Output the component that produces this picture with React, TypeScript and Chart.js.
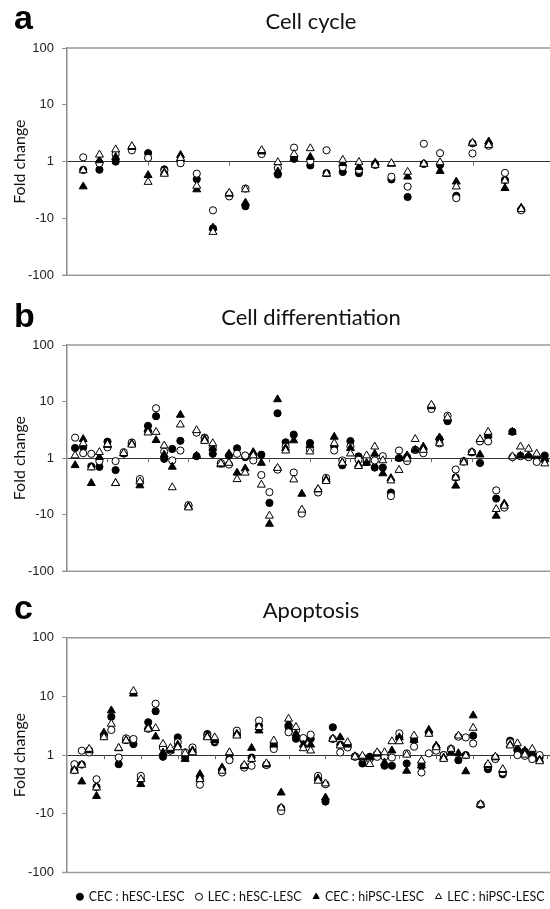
import React, { useEffect, useRef } from 'react';
import { Chart, registerables } from 'chart.js';

Chart.register(...registerables);

// ---------- shared labels ----------
const seriesLabels = ['CEC : hESC-LESC', 'LEC : hESC-LESC', 'CEC : hiPSC-LESC', 'LEC : hiPSC-LESC'];
const yTickValues = [-2, -1, 0, 1, 2];
const yTickLabels = ['-100', '-10', '1', '10', '100'];
const panelTitles = ['Cell cycle', 'Cell differentiation', 'Apoptosis'];
const panelLetters = ['a', 'b', 'c'];

// ---------- a: Cell cycle (fold change, 28 genes) ----------
const cycleCEC_hESC = [-1.4, -1.39, 1.0, 1.7, 1.41, -1.37, 1.05, -2.04, -15, -3.8, -6.1, 1.45, -1.69, 1.12, -1.17, -1.6, -1.52, -1.6, -1.1, -2.06, -4.2, -1.1, -1.15, -4.0, 2.1, 2.05, -2.1, -7.0];
const cycleLEC_hESC = [1.19, -1.07, 1.35, 1.58, 1.16, -1.45, -1.07, -1.63, -7.2, -4.1, -2.98, 1.36, -1.3, 1.76, 1.02, 1.58, -1.25, -1.4, -1.15, -1.85, -2.76, 2.06, 1.41, -4.4, 1.39, 1.9, -1.58, -7.2];
const cycleCEC_hiPSC = [-2.75, 1.05, 1.2, 1.8, -1.74, -1.55, 1.3, -3.1, -14.6, -3.7, -5.3, 1.5, -1.5, 1.15, 1.2, -1.65, -1.07, -1.25, -1.05, -1.1, -1.85, -1.1, -1.47, -2.26, 2.1, 2.25, -2.94, -6.5];
const cycleLEC_hiPSC = [-1.43, 1.32, 1.63, 1.86, -2.29, -1.65, 1.15, -2.68, -17.4, -3.58, -3.1, 1.58, -1.03, 1.35, 1.71, -1.63, 1.07, -1.02, -1.15, -1.07, -1.52, -1.1, -1.03, -2.76, 2.14, 1.95, -2.17, -6.9];

// ---------- b: Cell differentiation (fold change, 59 genes) ----------
const diffCEC_hESC = [1.51, 1.55, -1.4, -1.43, 1.95, -1.63, 1.2, 1.8, -2.6, 3.72, 5.5, -1.03, 1.45, 2.02, -7.0, 1.08, 2.3, 1.19, -1.25, 1.1, 1.49, 1.04, 1.1, 1.15, -6.2, 6.2, 1.9, 2.6, -9.0, 1.85, -3.8, -2.4, 1.6, -1.34, 2.0, 1.07, -1.17, -1.47, -1.47, -4.06, 1.0, 1.04, 1.4, 1.4, 8.0, 2.16, 4.5, -2.2, -1.15, 1.27, -1.22, 2.5, -5.2, -7.0, 2.93, 1.1, 1.05, 1.05, 1.11];
const diffLEC_hESC = [2.3, 1.22, 1.19, -1.13, 1.55, -1.13, 1.27, 1.89, -2.34, 3.0, 7.6, 1.3, -1.1, 1.36, -6.8, 2.82, 2.25, 1.55, -1.22, -1.3, 1.19, 1.11, -1.1, -1.99, -4.0, -1.6, 1.6, -1.8, -9.6, 1.4, -4.06, -2.24, 1.36, -1.1, 1.6, -1.07, -1.03, -1.1, 1.08, -4.7, 1.36, -1.13, 1.39, 1.22, 7.4, 1.82, 5.6, -1.59, -1.13, 1.27, 1.97, 1.97, -3.72, -7.5, 1.04, 1.08, 1.04, -1.17, -1.1];
const diffCEC_hiPSC = [-1.34, 2.16, -2.78, 1.04, 1.7, -2.78, 1.2, 1.8, -3.05, 3.2, 2.07, 1.15, -1.43, 5.8, -7.2, 1.1, 2.15, 1.5, -1.3, 1.19, -1.82, -1.53, 1.27, -1.22, -14.6, 10.9, 1.5, 2.05, -4.3, 1.7, -3.6, -2.4, 2.37, -1.2, 1.5, -1.3, -1.22, 1.19, -1.87, -2.27, 1.0, 1.11, 1.4, 1.59, 8.2, 2.31, 5.0, -3.09, -1.15, 1.25, 1.15, 2.5, -10.5, -6.4, 2.9, 1.1, 1.1, 1.1, -1.03];
const diffLEC_hiPSC = [1.11, 1.82, -1.47, 1.27, 1.75, -2.78, 1.22, 1.72, -2.6, 2.82, 2.89, 1.66, -3.3, 3.9, -7.5, 3.1, 2.0, 1.82, -1.25, -1.22, -2.37, -1.82, 1.11, -2.97, -10.5, -1.5, 1.35, -2.4, -8.2, 1.3, -3.56, -2.56, 1.82, -1.22, 1.2, -1.39, 1.11, 1.59, -1.1, -2.5, -1.63, -1.03, 2.16, 1.39, 8.7, 1.82, 5.2, -2.22, -1.2, 1.27, 2.16, 2.89, -8.0, -7.0, 1.07, 1.59, 1.45, 1.19, -1.25];

// ---------- c: Apoptosis (fold change, 64 genes) ----------
const apoCEC_hESC = [-1.8, -1.45, 1.2, -3.5, 2.2, 4.5, -1.43, 1.8, 1.54, -2.6, 3.63, 5.6, -1.07, 1.2, 2.0, -1.1, 1.2, -2.6, 2.29, 1.65, -1.8, -1.15, 2.3, -1.55, -1.1, 3.18, -1.45, 1.5, -8.0, 3.0, 1.9, 1.8, 1.9, -2.5, -6.2, 2.98, 1.5, 1.5, -1.05, -1.39, -1.07, 1.05, -1.52, -1.52, 2.0, -1.39, 1.8, -1.5, 2.4, 1.35, 1.0, 1.27, -1.22, 1.0, 2.14, -7.0, -1.74, -1.1, -2.12, 1.76, 1.2, 1.15, 1.0, -1.1];
const apoLEC_hESC = [-1.43, 1.19, 1.11, -2.58, 2.1, 2.68, -1.1, 1.93, 1.88, -2.26, 2.8, 7.5, 1.32, 1.19, 1.65, 1.11, 1.35, -3.2, 2.14, 1.76, -1.98, -1.22, 2.61, -1.63, -1.52, 3.88, -1.48, 1.27, -9.0, 2.45, 2.6, 1.95, 2.23, -2.26, -3.14, 1.88, 1.11, 1.35, -1.07, -1.1, -1.17, -1.07, -1.07, -1.1, 2.35, 1.07, 1.39, -1.98, 1.07, 1.19, 1.0, 1.27, 2.06, 2.0, 1.58, -6.9, -1.52, -1.17, -1.98, 1.65, 1.0, -1.03, -1.17, 1.0];
const apoCEC_hiPSC = [-1.8, -2.83, 1.2, -5.0, 2.4, 5.75, 1.3, 1.8, 11.1, -3.14, 3.0, 2.06, 1.1, 1.2, 1.5, -1.17, 1.2, -2.12, 2.1, 1.8, -1.63, 1.1, 2.3, -1.55, 1.32, 2.61, -1.45, 1.5, -4.37, 3.5, 2.3, 1.5, 1.5, -2.5, -5.3, 1.9, 2.0, 1.5, -1.05, -1.1, -1.1, 1.05, -1.34, 1.19, 2.0, -1.86, 1.8, -1.52, 2.68, 1.45, -1.1, 1.11, 1.07, -1.9, 4.72, -7.0, -1.5, -1.1, -1.8, 1.5, 1.3, 1.19, 1.11, -1.2];
const apoLEC_hiPSC = [-1.86, -1.47, 1.27, -3.58, 2.0, 3.4, 1.32, 1.76, 12.3, -2.58, 2.79, 2.87, 1.54, 1.32, 1.35, 1.07, 1.11, -2.58, 2.0, 2.0, -1.86, 1.11, 2.14, -1.48, -1.17, 2.98, -1.39, 1.76, -7.9, 4.14, 3.0, 1.3, 1.19, -2.75, -3.06, 1.88, 1.45, 1.65, -1.07, -1.03, -1.43, 1.11, 1.11, 1.71, 1.71, 1.01, 2.14, -1.25, 2.29, 1.35, -1.17, 1.27, 2.14, -1.03, 2.9, -6.9, -1.43, -1.07, -1.74, 1.45, 1.58, 1.01, 1.27, -1.28];

// x-axis extents (gene index units visible in the cropped figure)
const xMaxA = 33.6;
const xMaxB = 67.3;
const xMaxC = 73.8;

const foldToAxis = (fc: number) => (fc >= 1 ? Math.log10(fc) : fc <= -1 ? -Math.log10(-fc) : 0);

const markerStyles = [
  { pointStyle: 'circle', pointRadius: 3.6, backgroundColor: '#000', borderColor: '#000', order: 4 },
  { pointStyle: 'circle', pointRadius: 3.6, backgroundColor: '#fff', borderColor: '#000', order: 3 },
  { pointStyle: 'triangle', pointRadius: 4.6, backgroundColor: '#000', borderColor: '#000', order: 2 },
  { pointStyle: 'triangle', pointRadius: 4.6, backgroundColor: '#fff', borderColor: '#000', order: 1 },
];

const framePlugin = {
  id: 'frame',
  beforeDatasetsDraw(chart: any) {
    const { ctx, chartArea: a, scales } = chart;
    ctx.save();
    ctx.strokeStyle = '#9a9a9a';
    ctx.lineWidth = 1.5;
    ctx.beginPath();
    ctx.moveTo(a.left, a.top);
    ctx.lineTo(a.right, a.top);
    ctx.moveTo(a.left - 5, a.bottom);
    ctx.lineTo(a.right, a.bottom);
    ctx.stroke();
    const y0 = scales.y.getPixelForValue(0);
    ctx.strokeStyle = '#666';
    ctx.lineWidth = 1;
    ctx.beginPath();
    for (let v = 5; v < scales.x.max; v += 5) {
      const x = Math.round(scales.x.getPixelForValue(v)) + 0.5;
      ctx.moveTo(x, y0);
      ctx.lineTo(x, y0 + 4);
    }
    ctx.stroke();
    ctx.restore();
  },
};

type PanelProps = {
  idx: number;
  top: number;
  height: number;
  titlePad: { top: number; bottom: number };
  series: number[][];
  xMax: number;
  legend: boolean;
  bottomPad: number;
};

function Panel({ idx, top, height, titlePad, series, xMax, legend, bottomPad }: PanelProps) {
  const ref = useRef<HTMLCanvasElement | null>(null);
  useEffect(() => {
    if (!ref.current) return;
    const chart = new Chart(ref.current, {
      type: 'scatter',
      data: {
        datasets: series.map((vals, s) => ({
          label: seriesLabels[s],
          data: vals.map((fc, i) => ({ x: i + 1, y: foldToAxis(fc) })),
          borderWidth: 1,
          ...markerStyles[s],
        })) as any,
      },
      options: {
        responsive: false,
        animation: false,
        events: [],
        layout: { padding: { left: 10, right: 10, top: 0, bottom: bottomPad } },
        plugins: {
          tooltip: { enabled: false },
          title: {
            display: true,
            text: panelTitles[idx],
            font: { family: 'Lato', size: 22, weight: 'normal' as any, lineHeight: 1.2 },
            color: '#111',
            padding: titlePad,
          },
          legend: {
            display: legend,
            position: 'bottom',
            title: { display: true, text: ' ', padding: 0, font: { size: 6, lineHeight: 1 } },
            labels: {
              usePointStyle: true,
              boxWidth: 5,
              boxHeight: 5,
              padding: 12,
              color: '#111',
              font: { family: 'Lato', size: 12.5 },
              sort: (a: any, b: any) => a.datasetIndex - b.datasetIndex,
            },
          },
        },
        scales: {
          x: { type: 'linear', min: 0, max: xMax, display: false },
          y: {
            type: 'linear',
            min: -2,
            max: 2,
            afterFit: (scale: any) => {
              scale.width = 57;
            },
            afterBuildTicks: (scale: any) => {
              scale.ticks = yTickValues.map((v) => ({ value: v }));
            },
            ticks: {
              callback: (v: any) => yTickLabels[yTickValues.indexOf(Number(v))],
              font: { family: 'Liberation Sans', size: 13 },
              color: '#222',
              padding: 8,
            },
            grid: {
              color: (c: any) => (c.tick && c.tick.value === 0 ? '#333' : 'rgba(0,0,0,0)'),
              tickColor: '#8c8c8c',
              tickLength: 5,
              lineWidth: 1,
            },
            border: { display: true, color: '#8c8c8c', width: 1.5 },
            title: {
              display: true,
              text: 'Fold change',
              font: { family: 'Lato', size: 16, lineHeight: 1.2 },
              color: '#111',
              padding: { top: 0, bottom: 0 },
            },
          },
        },
      },
      plugins: [framePlugin],
    });
    return () => chart.destroy();
  }, []);
  return (
    <div style={{ position: 'absolute', left: 0, top, width: 622, height }}>
      <canvas ref={ref} width={622} height={height} style={{ width: 622, height, display: 'block' }} />
    </div>
  );
}

const letterStyle = (top: number): React.CSSProperties => ({
  position: 'absolute',
  left: 14,
  top,
  fontFamily: 'Liberation Sans, Arial, sans-serif',
  fontWeight: 'bold',
  fontSize: 34,
  lineHeight: '34px',
  color: '#000',
});

export default function App() {
  return (
    <div style={{ position: 'fixed', left: 0, top: 0, width: 550, height: 909, overflow: 'hidden', background: '#fff' }}>
      <Panel idx={0} top={0} height={291} titlePad={{ top: 8.8, bottom: 12.8 }} xMax={xMaxA} legend={false} bottomPad={10}
        series={[cycleCEC_hESC, cycleLEC_hESC, cycleCEC_hiPSC, cycleLEC_hiPSC]} />
      <Panel idx={1} top={290} height={297} titlePad={{ top: 14.8, bottom: 13.8 }} xMax={xMaxB} legend={false} bottomPad={10}
        series={[diffCEC_hESC, diffLEC_hESC, diffCEC_hiPSC, diffLEC_hiPSC]} />
      <Panel idx={2} top={587} height={326} titlePad={{ top: 10.8, bottom: 13.5 }} xMax={xMaxC} legend={true} bottomPad={0}
        series={[apoCEC_hESC, apoLEC_hESC, apoCEC_hiPSC, apoLEC_hiPSC]} />
      <div style={letterStyle(0)}>{panelLetters[0]}</div>
      <div style={letterStyle(298)}>{panelLetters[1]}</div>
      <div style={letterStyle(590)}>{panelLetters[2]}</div>
    </div>
  );
}
